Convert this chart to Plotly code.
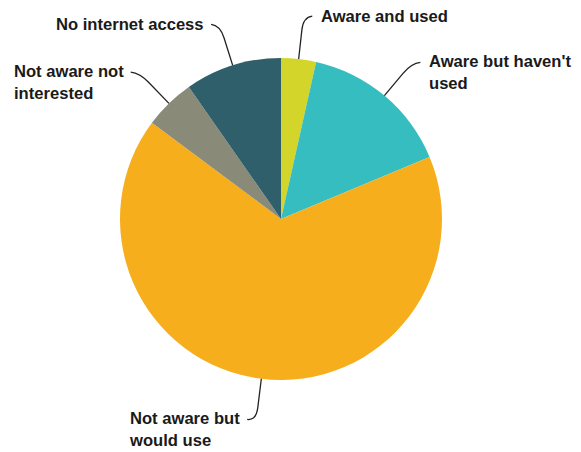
import math
import plotly.graph_objects as go

labels = ["Aware and used", "Aware but haven't used", "Not aware but would use",
          "Not aware not interested", "No internet access"]
label_text = ["Aware and used", "Aware but haven't<br>used", "Not aware but<br>would use",
              "Not aware not<br>interested", "No internet access"]
values = [3.5, 15.2, 66.5, 5.1, 9.7]
colors = ["#d3d52a", "#36bdbf", "#f6ae1d", "#8a8a79", "#2f5f6b"]

OFF = 8  # page body margin
W, H = 581 - OFF, 452 - OFF
CX, CY, R = 281 - OFF, 219 - OFF, 161  # pie placement in figure pixels

fig = go.Figure(go.Pie(
    labels=labels, values=values, sort=False, direction="clockwise", rotation=0,
    marker=dict(colors=colors, line=dict(width=0)),
    textinfo="none", hoverinfo="label+percent", showlegend=False,
    domain=dict(x=[(CX - R) / W, (CX + R) / W],
                y=[(H - CY - R) / H, (H - CY + R) / H]),
))

def px(x, y):
    return x / W, 1 - y / H

total = sum(values)
cum = 0
shapes, annotations = [], []
for lab, v in zip(label_text, values):
    mid = (cum + v / 2) / total * 2 * math.pi
    cum += v
    sx, sy = math.sin(mid), -math.cos(mid)
    p0 = (CX + R * sx, CY + R * sy)
    pa = (CX + (R + 29) * sx, CY + (R + 29) * sy)
    p1 = (CX + (R + 42) * sx, CY + (R + 42) * sy)
    side = 1 if sx >= 0 else -1
    p2 = (p1[0] + side * 9, p1[1] - 1)
    pts = [px(*p) for p in (p0, pa, p1, p2)]
    path = "M {0},{1} L {2},{3} Q {4},{5} {6},{7}".format(
        pts[0][0], pts[0][1], pts[1][0], pts[1][1],
        pts[2][0], pts[2][1], pts[3][0], pts[3][1])
    shapes.append(dict(type="path", path=path, xref="paper", yref="paper",
                       line=dict(color="#222222", width=1.3)))
    tx = p2[0] + side * (7 if side > 0 else 5)
    nlines = lab.count("<br>") + 1
    ty = p2[1] + (nlines - 1) * 10.5
    ax, ay = px(tx, ty)
    annotations.append(dict(
        text="<b>" + lab + "</b>", x=ax, y=ay, xref="paper", yref="paper",
        xanchor="left" if side > 0 else "right", yanchor="middle",
        align="left", showarrow=False,
        font=dict(family="Liberation Sans, Arial, sans-serif", size=16.6, color="#1a1a1a")))

fig.update_layout(
    width=W, height=H, margin=dict(l=0, r=0, t=0, b=0),
    paper_bgcolor="white", plot_bgcolor="white",
    shapes=shapes, annotations=annotations,
)

fig.write_html("out.html")
